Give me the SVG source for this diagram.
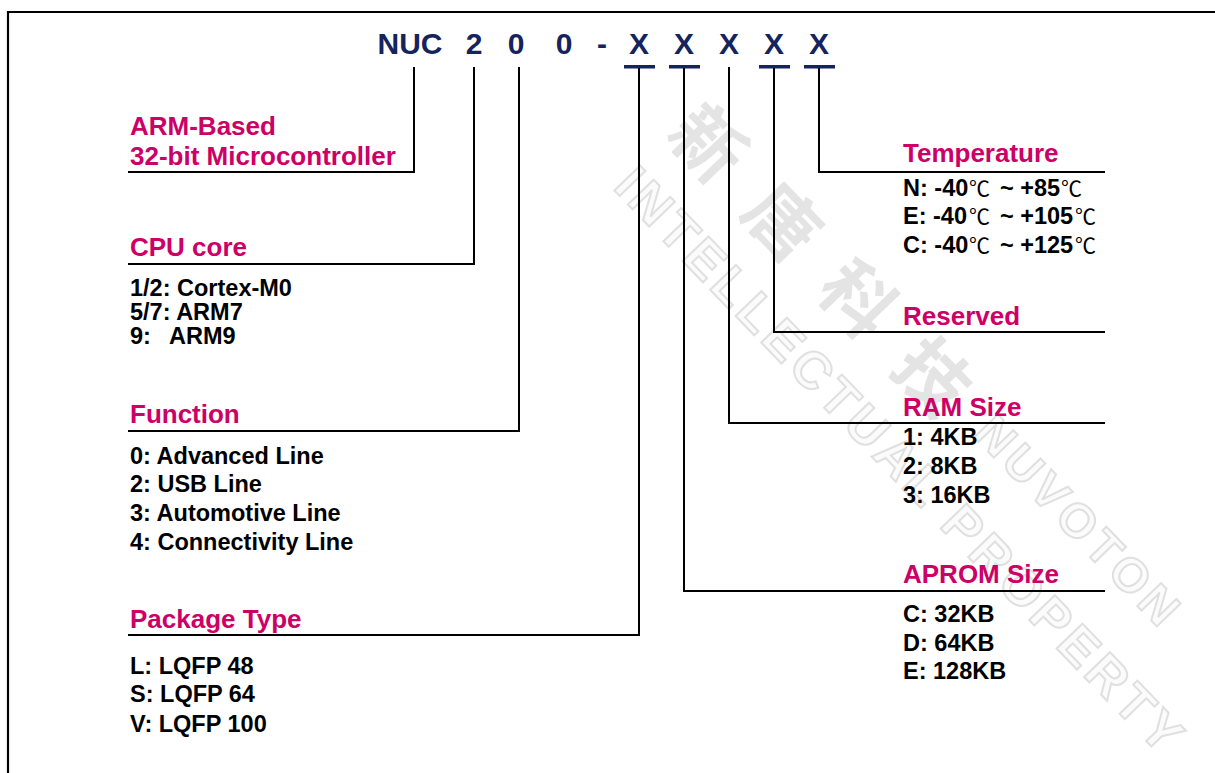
<svg xmlns="http://www.w3.org/2000/svg" width="1215" height="773" viewBox="0 0 1215 773">
<style>
.title{font-family:"Liberation Sans",Arial,sans-serif;font-weight:bold;font-size:30px;fill:#15245e;text-anchor:middle}
.hd{font-family:"Liberation Sans",Arial,sans-serif;font-weight:bold;font-size:26px;fill:#cc0066}
.bd{font-family:"Liberation Sans",Arial,sans-serif;font-weight:bold;font-size:23.5px;fill:#000}
.deg{font-family:"Noto Sans CJK TC","Noto Sans CJK SC",sans-serif;font-weight:normal;font-size:21px}
.wm{font-family:"Liberation Sans",Arial,sans-serif;font-weight:bold;fill:#fbfbfb;stroke:#e0e0e0;stroke-width:2}
.wmc{font-family:"Noto Sans CJK TC","Noto Sans CJK SC",sans-serif;font-weight:bold;fill:#e4e4e4}
.conn{fill:none;stroke:#000;stroke-width:2}
.bar{fill:#15245e}
</style>
<rect width="1215" height="773" fill="#ffffff"/>
<!-- watermark -->
<g id="watermark">
<text class="wmc" font-size="72" letter-spacing="36" transform="translate(664,136) rotate(46)">新唐科技</text>
<text class="wm" font-size="48" letter-spacing="5" transform="translate(972,435) rotate(46)">NUVOTON</text>
<text class="wm" font-size="52" textLength="790" lengthAdjust="spacing" transform="translate(612,188) rotate(46)">INTELLECTUAL PROPERTY</text>
</g>
<!-- frame -->
<path d="M8,773 V12 H1215" fill="none" stroke="#000" stroke-width="2.2"/>
<!-- part number -->
<g id="partno">
<text class="title" x="410" y="54">NUC</text>
<text class="title" x="474" y="54">2</text>
<text class="title" x="516" y="54">0</text>
<text class="title" x="564" y="54">0</text>
<text class="title" x="602" y="54">-</text>
<text class="title" x="639" y="54">X</text>
<text class="title" x="684" y="54">X</text>
<text class="title" x="729" y="54">X</text>
<text class="title" x="774" y="54">X</text>
<text class="title" x="819" y="54">X</text>
<rect class="bar" x="624" y="65" width="31" height="3.5"/>
<rect class="bar" x="669" y="65" width="31" height="3.5"/>
<rect class="bar" x="759" y="65" width="31" height="3.5"/>
<rect class="bar" x="804" y="65" width="31" height="3.5"/>
</g>
<!-- connectors -->
<g id="connectors">
<path class="conn" d="M414,67 V172 H128"/>
<path class="conn" d="M474,67 V264 H128"/>
<path class="conn" d="M519,67 V431 H128"/>
<path class="conn" d="M639,68 V635 H128"/>
<path class="conn" d="M684,68 V591 H1105"/>
<path class="conn" d="M729,67 V423 H1105"/>
<path class="conn" d="M774,68 V332 H1105"/>
<path class="conn" d="M819,68 V172 H1105"/>
</g>
<!-- left nodes -->
<g id="n-family">
<text class="hd" x="130" y="135">ARM-Based</text>
<text class="hd" x="130" y="165">32-bit Microcontroller</text>
</g>
<g id="n-cpu">
<text class="hd" x="130" y="256">CPU core</text>
<text class="bd" x="130" y="296">1/2: Cortex-M0</text>
<text class="bd" x="130" y="320">5/7: ARM7</text>
<text class="bd" x="130" y="344">9:<tspan x="169">ARM9</tspan></text>
</g>
<g id="n-function">
<text class="hd" x="130" y="423">Function</text>
<text class="bd" x="130" y="464">0: Advanced Line</text>
<text class="bd" x="130" y="492">2: USB Line</text>
<text class="bd" x="130" y="521">3: Automotive Line</text>
<text class="bd" x="130" y="550">4: Connectivity Line</text>
</g>
<g id="n-package">
<text class="hd" x="130" y="628">Package Type</text>
<text class="bd" x="130" y="674">L: LQFP 48</text>
<text class="bd" x="130" y="702">S: LQFP 64</text>
<text class="bd" x="130" y="732">V: LQFP 100</text>
</g>
<!-- right nodes -->
<g id="n-temp">
<text class="hd" x="903" y="162">Temperature</text>
<text class="bd" x="903" y="196">N: -40<tspan class="deg" x="969">℃</tspan><tspan x="1000">~ +85</tspan><tspan class="deg" x="1061">℃</tspan></text>
<text class="bd" x="903" y="224">E: -40<tspan class="deg" x="969">℃</tspan><tspan x="1000">~ +105</tspan><tspan class="deg" x="1075">℃</tspan></text>
<text class="bd" x="903" y="253">C: -40<tspan class="deg" x="969">℃</tspan><tspan x="1000">~ +125</tspan><tspan class="deg" x="1075">℃</tspan></text>
</g>
<g id="n-reserved">
<text class="hd" x="903" y="325">Reserved</text>
</g>
<g id="n-ram">
<text class="hd" x="903" y="416">RAM Size</text>
<text class="bd" x="903" y="445">1: 4KB</text>
<text class="bd" x="903" y="474">2: 8KB</text>
<text class="bd" x="903" y="503">3: 16KB</text>
</g>
<g id="n-aprom">
<text class="hd" x="903" y="583">APROM Size</text>
<text class="bd" x="903" y="622">C: 32KB</text>
<text class="bd" x="903" y="651">D: 64KB</text>
<text class="bd" x="903" y="679">E: 128KB</text>
</g>
</svg>
